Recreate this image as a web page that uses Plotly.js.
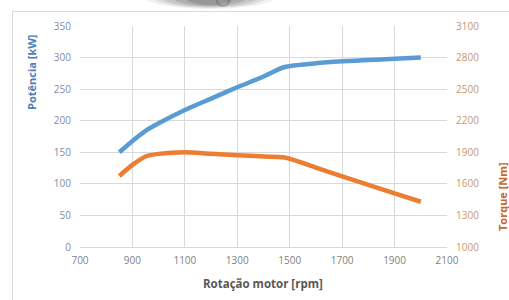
<!DOCTYPE html>
<html>
<head>
<meta charset="utf-8">
<script src="https://cdn.plot.ly/plotly-3.0.1.min.js"></script>
<style>html,body{margin:0;padding:0;background:#fff;}#chart{width:509px;height:300px;}</style>
</head>
<body>
<div id="chart"></div>
<script>
// Data
const rpm = [850, 900, 950, 1000, 1100, 1200, 1300, 1400, 1480, 1600, 1700, 1800, 1900, 2000];
const powerKW = [150, 168, 184, 196, 217, 235, 253, 270, 285, 291, 294, 296, 298, 300];
const torqueNm = [1675, 1780, 1860, 1885, 1900, 1885, 1872, 1860, 1850, 1755, 1670, 1590, 1510, 1430];
const xTitle = "Rotação motor [rpm]";
const yTitle = "Potência [kW]";
const y2Title = "Torque [Nm]";

const L = 80, R = 447, T = 26, B = 247, W = 509, H = 300;
const px = x => (x - L) / (R - L);
const py = y => (B - y) / (B - T);

const font = "Open Sans, Liberation Sans, sans-serif";

const traces = [
  {x: rpm, y: powerKW, type: 'scatter', mode: 'lines', line: {color: '#5b9bd5', width: 4.5, shape: 'spline', smoothing: 0.7}, yaxis: 'y', hoverinfo: 'skip'},
  {x: rpm, y: torqueNm, type: 'scatter', mode: 'lines', line: {color: '#ed7d31', width: 4.5, shape: 'spline', smoothing: 0.8}, yaxis: 'y2', hoverinfo: 'skip'}
];

const shapes = [];
// top blurry blob (cut-off image artifact)
const blobs = [[66, 9, 0.07], [58, 8, 0.10], [50, 7, 0.13], [40, 6, 0.16], [28, 5, 0.18]];
blobs.forEach(b => {
  shapes.push({type: 'circle', xref: 'paper', yref: 'paper', layer: 'above',
    x0: px(210 - b[0]), x1: px(210 + b[0]), y0: py(b[1]), y1: py(-16),
    fillcolor: 'rgba(50,50,50,' + b[2] + ')', line: {width: 0}});
});
shapes.push({type: 'circle', xref: 'paper', yref: 'paper', layer: 'above',
  x0: px(217), x1: px(229), y0: py(6), y1: py(-4),
  fillcolor: 'rgba(0,0,0,0)', line: {color: 'rgba(70,70,70,0.35)', width: 1.5}});
// frame lines
shapes.push({type: 'line', xref: 'paper', yref: 'paper', x0: px(12), x1: px(509), y0: py(11.5), y1: py(11.5), line: {color: '#d9d9d9', width: 1}});
shapes.push({type: 'line', xref: 'paper', yref: 'paper', x0: px(12.5), x1: px(12.5), y0: py(11.5), y1: py(300), line: {color: '#d9d9d9', width: 1}});

const annotations = [
  {text: '<b>' + yTitle + '</b>', xref: 'paper', yref: 'paper', x: px(31), y: py(73), textangle: -90, showarrow: false, font: {family: font, size: 11, color: '#4a7fb8'}, xanchor: 'center', yanchor: 'middle'},
  {text: '<b>' + y2Title + '</b>', xref: 'paper', yref: 'paper', x: px(502), y: py(197), textangle: -90, showarrow: false, font: {family: font, size: 11, color: '#c0692a'}, xanchor: 'center', yanchor: 'middle'},
  {text: '<b>' + xTitle + '</b>', xref: 'paper', yref: 'paper', x: px(263), y: py(283), showarrow: false, font: {family: font, size: 11.5, color: '#595959'}, xanchor: 'center', yanchor: 'middle'}
];

const layout = {
  width: W, height: H,
  margin: {l: L, r: W - R, t: T, b: H - B, pad: 0},
  paper_bgcolor: '#fff', plot_bgcolor: '#fff',
  showlegend: false,
  xaxis: {range: [700, 2100], dtick: 200, tick0: 700, showgrid: true, gridcolor: '#d9d9d9', gridwidth: 1,
    zeroline: false, showline: true, linecolor: '#d9d9d9', ticks: '', ticklabelstandoff: 4,
    tickfont: {family: font, size: 10, color: '#7f7f7f'}, fixedrange: true},
  yaxis: {range: [0, 350], dtick: 50, showgrid: true, gridcolor: '#d9d9d9', gridwidth: 1,
    zeroline: false, showline: false, ticks: '', ticklabelstandoff: 8,
    tickfont: {family: font, size: 10, color: '#7a8eaa'}, fixedrange: true},
  yaxis2: {range: [1000, 3100], dtick: 300, tick0: 1000, overlaying: 'y', side: 'right', showgrid: false,
    zeroline: false, showline: false, ticks: '', ticklabelstandoff: 8,
    tickfont: {family: font, size: 10, color: '#c4986f'}, fixedrange: true},
  shapes: shapes,
  annotations: annotations
};

Plotly.newPlot('chart', traces, layout, {displayModeBar: false, staticPlot: true});
</script>
</body>
</html>
